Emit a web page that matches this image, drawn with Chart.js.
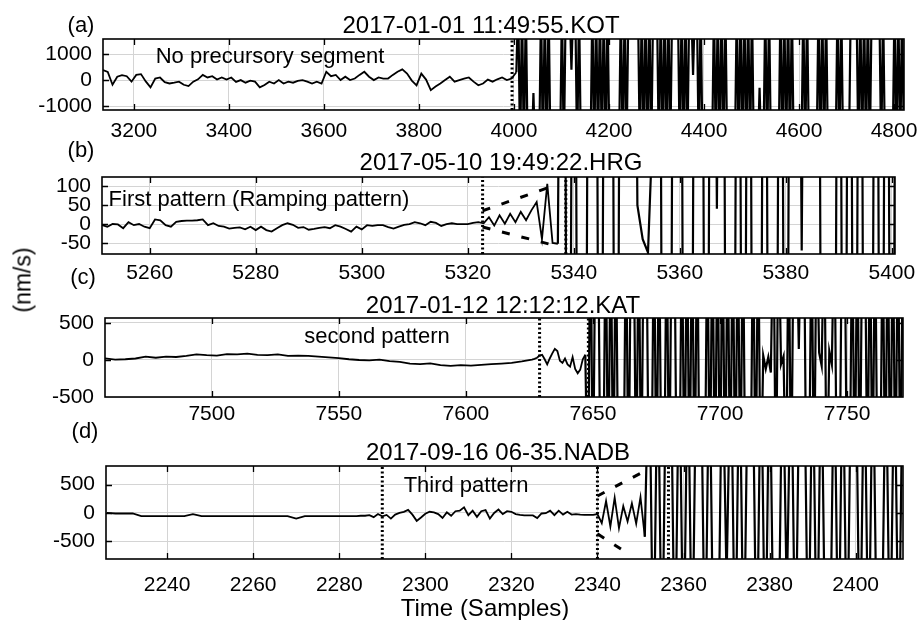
<!DOCTYPE html>
<html>
<head>
<meta charset="utf-8">
<title>Precursory patterns</title>
<script src="https://cdn.jsdelivr.net/npm/chart.js@4.4.1/dist/chart.umd.min.js"></script>
<style>
  html, body { margin: 0; padding: 0; background: #fff; }
  body { position: relative; width: 919px; height: 620px; overflow: hidden; font-family: 'Liberation Sans', Arial, Helvetica, sans-serif; color: #000; }
  canvas { position: absolute; left: 0; }
  .txt { position: absolute; white-space: nowrap; line-height: 1; transform: translate(-50%, -50%); }
  .rot { transform: translate(-50%, -50%) rotate(-90deg); }
</style>
</head>
<body>
<canvas id="cvKot"></canvas>
<canvas id="cvHrg"></canvas>
<canvas id="cvKat"></canvas>
<canvas id="cvNadb"></canvas>

<div class="txt" style="left:81px;top:25px;font-size:22px">(a)</div>
<div class="txt" style="left:481px;top:25px;font-size:24px">2017-01-01 11:49:55.KOT</div>
<div class="txt" style="left:270px;top:56px;font-size:22px">No precursory segment</div>

<div class="txt" style="left:81px;top:150px;font-size:22px">(b)</div>
<div class="txt" style="left:501px;top:162px;font-size:24px">2017-05-10 19:49:22.HRG</div>
<div class="txt" style="left:259px;top:199px;font-size:22px">First pattern (Ramping pattern)</div>

<div class="txt" style="left:83px;top:277px;font-size:22px">(c)</div>
<div class="txt" style="left:503px;top:305px;font-size:24px">2017-01-12 12:12:12.KAT</div>
<div class="txt" style="left:377px;top:336px;font-size:22px">second pattern</div>

<div class="txt" style="left:85px;top:431px;font-size:22px">(d)</div>
<div class="txt" style="left:498px;top:452px;font-size:24px">2017-09-16 06-35.NADB</div>
<div class="txt" style="left:466px;top:485px;font-size:22px">Third pattern</div>

<div class="txt rot" style="left:23px;top:280px;font-size:23px">(nm/s)</div>
<div class="txt" style="left:485px;top:608px;font-size:24px">Time (Samples)</div>

<script>
// ---------- (a) KOT ----------
var kotTicksX = [3200, 3400, 3600, 3800, 4000, 4200, 4400, 4600, 4800];
var kotTicksY = [-1000, 0, 1000];
// background noise, one value every 10 samples from 3135
var kotNoise = [385, 310, -180, 130, 190, 150, -60, 200, 230, -50,
  -280, 60, 100, -80, -130, -100, -60, -180, -230, -60,
  30, 200, 100, 150, 20, 100, 20, 100, -70, 0,
  -100, -20, -60, -280, -190, -60, -130, 0, -130, -60,
  -100, -30, 0, -60, -130, -60, -130, 320, 150, 200,
  0, 130, 0, 60, 200, 320, 130, 0, 100, 60,
  60, 200, 320, 410, 250, -20, -200, 250, 20, -385,
  -250, -130, 0, 130, -60, 0, 60, 100, -60, -200,
  -130, 20, -60, 30, 100, 0, 60, 300];
// clipped arrival, one value every 4 samples from 4009
var kotClip = [3000, -3000, 3000, -3000, 3000, -3000,
  -3000, -3000, -500, -3000, -3000, -3000,
  3000, -3000, 3000, -3000, 3000, -3000,
  -3000, -3000, -3000, -3000, -3000,
  3000, -3000, 3000,
  3000, 3000, 400, 3000, 3000,
  -3000, 3000, -3000,
  -3000, -3000, -3000, -3000, -3000,
  3000, -3000, 3000, -3000, 3000, -3000, 3000, -3000, 3000, -3000,
  -3000, -3000, -3000, -3000, -3000,
  3000, -3000, 3000, -3000, 3000,
  3000, 3000, 3000, 3000, 3000,
  -3000, 3000, -3000, 3000, -3000, 3000, -3000, 3000,
  3000, 3000,
  -3000, 3000, -3000, 3000, -3000, 3000, -3000, 3000,
  3000, 3000, 3000,
  -3000, 3000, -3000, 3000, -3000, 3000,
  3000, 200, 3000, 3000,
  -3000, 3000, -3000,
  -3000, -3000, -3000, -3000, -3000,
  3000, -3000, 3000, -3000, 3000, -3000, 3000, -3000,
  -3000, -3000, -3000, -3000,
  3000, -3000, 3000, -3000, 3000, -3000, 3000, -3000, 3000, -3000,
  -3000, -3000, -300, -3000, -3000,
  3000, -3000, 3000, -3000,
  -3000, -3000, -3000, -3000,
  3000, -3000, 3000, -3000, 3000, -3000, 3000, -3000,
  -3000, -3000, -3000, -3000,
  3000, -3000, 3000, -3000,
  -3000, -3000, -3000, -3000,
  3000, -3000, 3000, -3000, 3000, -3000,
  -3000, -3000, -3000, -3000,
  3000, -3000, 3000, -3000,
  -3000, -3000, -3000, 3000, 3000, 3000, 3000,
  -3000, 3000, -3000, 3000, -3000, 3000, -3000, 3000,
  3000, 3000, 3000, 3000,
  -3000, 3000, -3000,
  -3000, -3000, -3000, -3000,
  3000, -3000, 3000, -3000, 3000, -3000, 3000, -3000];
var kotMarks = [3996];

// ---------- (b) HRG ----------
var hrgTicksX = [5260, 5280, 5300, 5320, 5340, 5360, 5380, 5400];
var hrgTicksY = [-50, 0, 50, 100];
var hrgNoise = [-3, -7, 0, -1, -11, 5, -3, 0, -7, -11,
  12, 10, -3, -7, 6, 8, 9, 9, 10, 12,
  -3, 2, -5, -7, -12, -10, -9, -14, -7, -16,
  -7, -16, -20, -11, -3, 2, -2, -10, -8, -15,
  -13, -10, -8, -11, -3, -7, -13, -20, -7, -14,
  -3, -5, -3, -3, -8, -12, -7, -2, 0, 5,
  2, -3, 6, 3, -5, 0, 2, 0, 0, 0,
  3, 5];                                   // 5251 .. 5322
var hrgRamp = [2, 18, -4, 23, 1, 27, 5, 32, 10, 36, 58, -40, 106, -50, -52];  // 5323 .. 5337
var hrgClip = [2000, -2000, 2000, -2000, -2000, 2000, 2000, -2000, 2000, 2000,
  -2000, 2000, 2000, 2000, 50, -40, -75, 300, 2000, -2000,
  -2000, 2000, 2000, -2000, -2000, 2000, 2000, -2000, 2000, 40,
  2000, -2000, -2000, 2000, -2000, 2000, -2000, -2000, 2000, -2000,
  -2000, 2000, -2000, 2000, 2000, -70, 2000, 2000, 2000, -2000,
  -2000, -2000, 2000, -2000, 2000, -2000, 2000, -2000, -2000, 2000,
  -2000, 2000, -2000, 2000];               // 5338 .. 5401
var hrgMarks = [5322.8, 5338.5];
var hrgUpperX = [5322.8, 5336], hrgUpperY = [35, 100];
var hrgLowerX = [5322.8, 5336], hrgLowerY = [-8, -55];

// ---------- (c) KAT ----------
var katTicksX = [7500, 7550, 7600, 7650, 7700, 7750];
var katTicksY = [-500, 0, 500];
var katNoise = [22, 5, 10, 20, 45, 30, 45, 40, 55, 75,
  65, 60, 80, 75, 85, 70, 65, 75, 55, 60,
  55, 45, 35, 25, 10, 0, -5, 5, -15, -25,
  -50, -55, -45, -70, -80, -70, -75, -65, -55, -48,
  -40, -20, 5];                            // every 4 samples, 7458 .. 7626
var katOnset = [15, 30, 60, 70, 10, -60, 20, 90, 150, 120, -10, -40, 20, -60, -90, 40, -120, -180, -130, 10, 70];  // 7627 .. 7647
var katClip = [-2000, 2000, -2000, 2000, 2000, -2000, -2000, 2000, -2000, 2000,
  -2000, 2000, -2000, -2000, -2000, 2000, -2000, 2000, 2000, -2000,
  2000, -2000, 2000, 2000, -2000, -2000, 2000, -2000, 2000, -2000,
  -2000, 2000, -2000, 2000, 2000, -2000, -2000, 2000, -2000, 2000,
  -2000, 2000, -2000, 2000, -2000, -2000, -2000, 2000, -2000, 2000,
  -2000, 2000, -2000, 2000, -2000, 2000, -2000, 2000, -2000, 2000,
  -2000, 2000, -2000, -2000, -2000, 2000, -2000, 2000, -2000, 60,
  -120, 40, -170, 2000, -2000, 2000, -60, 50, -2000, 2000,
  -2000, 2000, 2000, 150, 2000, 2000, -2000, -2000, 2000, -2000,
  2000, 100, -80, 2000, -2000, 120, -60, 2000, -2000, -2000,
  2000, 2000, -2000, -2000, 2000, -2000, 2000, -2000, 2000, 2000,
  -2000, 2000, -2000, 2000, -2000, -2000, 2000, -2000, 2000, -2000,
  2000, -2000, 2000, -2000, 2000];         // 7648 .. 7772
var katMarks = [7629, 7648.2];

// ---------- (d) NADB ----------
var nadbTicksX = [2240, 2260, 2280, 2300, 2320, 2340, 2360, 2380, 2400];
var nadbTicksY = [-500, 0, 500];
var nadbQuiet = [0, -10, -10, -10, -55, -55, -55, -55, -55, -55,
  -20, -55, -55, -55, -55, -55, -55, -55, -55, -55,
  -55, -55, -100, -55, -55, -55, -55, -55, -55, -55];   // every 2 samples, 2226 .. 2284
var nadbWiggle = [-50, -50, -40, -75, -20, -60, -35, -100, -30, 0,
  20, 55, -30, -140, -80, -15, 20, 10, -20, -90,
  10, -50, 30, 40, 100, -40, 40, -70, 30, 50,
  -100, 0, 60, -20, 30, 20, -20, -35, -45, -45,
  -45, -90, -10, -5, 40, -40, 40, -30, 20, -30,
  -20, -30, -35, -35, -35];               // 2285 .. 2339
var nadbRamp = [-20, -180, 210, -240, 270, -270, 120, -150, 170, -190, 280, -420];  // 2340 .. 2351
var nadbClip = [3000, -3000, 3000, -3000, 3000, 3000, -3000, 3000, -3000, 3000,
  -3000, 3000, 3000, -3000, 3000, -3000, -3000, 3000, -1200, 3000,
  -3000, 3000, -3000, 3000, 3000, -3000, 3000, -3000, 3000, -3000,
  -3000, 3000, -1500, 3000, -3000, 3000, 3000, -3000, 3000, -3000,
  3000, -3000, -3000, 3000, -3000, 3000, -3000, 3000, 3000, -3000,
  3000, -3000, 3000, -3000, -3000, 3000, -3000, 3000, -3000, 3000];  // 2352 .. 2411
var nadbMarks = [2290, 2340, 2356.5];
var nadbUpperX = [2340, 2350.5], nadbUpperY = [300, 720];
var nadbLowerX = [2340, 2346.5], nadbLowerY = [-370, -690];

function pts(x0, step, ys) {
  return ys.map(function (y, i) { return { x: x0 + i * step, y: y }; });
}
function pairs(xs, ys) {
  return xs.map(function (x, i) { return { x: x, y: ys[i] }; });
}

Chart.defaults.font.family = "'Liberation Sans', Arial, Helvetica, sans-serif";
Chart.defaults.color = '#000';

var frameTicks = {
  id: 'frameTicks',
  afterDraw: function (chart) {
    var a = chart.chartArea, ctx = chart.ctx;
    var sx = chart.scales.x, sy = chart.scales.y;
    ctx.save();
    ctx.strokeStyle = '#000';
    ctx.lineWidth = 1.3;
    ctx.beginPath();
    sx.ticks.forEach(function (t) {
      var px = Math.round(sx.getPixelForValue(t.value)) + 0.5;
      if (px < a.left || px > a.right) return;
      ctx.moveTo(px, a.bottom); ctx.lineTo(px, a.bottom - 6);
      ctx.moveTo(px, a.top); ctx.lineTo(px, a.top + 6);
    });
    sy.ticks.forEach(function (t) {
      var py = Math.round(sy.getPixelForValue(t.value)) + 0.5;
      if (py < a.top || py > a.bottom) return;
      ctx.moveTo(a.left, py); ctx.lineTo(a.left + 6, py);
      ctx.moveTo(a.right, py); ctx.lineTo(a.right - 6, py);
    });
    ctx.stroke();
    ctx.lineWidth = 1.6;
    ctx.strokeRect(a.left, a.top, a.right - a.left, a.bottom - a.top);
    ctx.restore();
  }
};

var TOP_GAP = 28, AXIS_H = 40, CANVAS_W = 960;

function makePanel(p) {
  var cv = document.getElementById(p.id);
  cv.width = CANVAS_W;
  cv.height = TOP_GAP + (p.bottom - p.top) + AXIS_H;
  cv.style.top = (p.top - TOP_GAP) + 'px';

  // quiet part and clipped part share the joining sample so the trace stays continuous
  var joint = p.quiet[p.quiet.length - 1];
  var datasets = [
    { data: p.quiet, borderColor: '#000', borderWidth: 1.8, order: 2 },
    { data: [joint].concat(p.clip), borderColor: '#000', borderWidth: p.clipWidth, order: 2 }
  ];
  p.marks.forEach(function (x) {
    datasets.push({ data: [{ x: x, y: p.yMin }, { x: x, y: p.yMax }],
      borderColor: '#000', borderWidth: 3, borderDash: [2, 2.5], order: 1 });
  });
  (p.envelopes || []).forEach(function (env) {
    datasets.push({ data: env, borderColor: '#000', borderWidth: 3, borderDash: [8, 12], order: 1 });
  });
  datasets.forEach(function (d) { d.pointRadius = 0; d.tension = 0; d.fill = false; d.clip = 0; });

  function tickList(arr) {
    return function (s) { s.ticks = arr.map(function (v) { return { value: v }; }); };
  }

  new Chart(cv, {
    type: 'line',
    data: { datasets: datasets },
    options: {
      responsive: false,
      animation: false,
      devicePixelRatio: 1,
      events: [],
      layout: { padding: { left: 0, top: TOP_GAP, right: CANVAS_W - p.right, bottom: 0 } },
      plugins: { legend: { display: false }, tooltip: { enabled: false } },
      scales: {
        x: {
          type: 'linear', min: p.xMin, max: p.xMax, bounds: 'data',
          afterBuildTicks: tickList(p.xTicks),
          afterFit: function (s) { s.height = AXIS_H; },
          ticks: { color: '#000', font: { size: 21 }, padding: p.xPad, maxRotation: 0, autoSkip: false,
            callback: function (v) { return String(v); } },
          grid: { color: '#d4d4d4', lineWidth: 1, drawTicks: false },
          border: { display: false }
        },
        y: {
          type: 'linear', min: p.yMin, max: p.yMax, bounds: 'data',
          afterBuildTicks: tickList(p.yTicks),
          afterFit: function (s) { s.width = p.left; },
          ticks: { color: '#000', font: { size: 21 }, padding: 11, autoSkip: false,
            callback: function (v) { return String(v); } },
          grid: { color: '#d4d4d4', lineWidth: 1, drawTicks: false },
          border: { display: false }
        }
      }
    },
    plugins: [frameTicks]
  });
}

makePanel({
  id: 'cvKot', left: 103, right: 904, top: 39, bottom: 110,
  xMin: 3135, xMax: 4821, yMin: -1150, yMax: 1580, xPad: 9,
  xTicks: kotTicksX, yTicks: kotTicksY,
  quiet: pts(3135, 10, kotNoise),
  clip: pts(4009, 4, kotClip), clipWidth: 2.2,
  marks: kotMarks
});

makePanel({
  id: 'cvHrg', left: 102, right: 895, top: 177, bottom: 254,
  xMin: 5251, xMax: 5400.6, yMin: -79, yMax: 124, xPad: 7,
  xTicks: hrgTicksX, yTicks: hrgTicksY,
  quiet: pts(5251, 1, hrgNoise).concat(pts(5323, 1, hrgRamp)),
  clip: pts(5338, 1, hrgClip), clipWidth: 2.2,
  marks: hrgMarks,
  envelopes: [pairs(hrgUpperX, hrgUpperY), pairs(hrgLowerX, hrgLowerY)]
});

makePanel({
  id: 'cvKat', left: 105, right: 903, top: 318, bottom: 397,
  xMin: 7458, xMax: 7772, yMin: -500, yMax: 567, xPad: 5,
  xTicks: katTicksX, yTicks: katTicksY,
  quiet: pts(7458, 4, katNoise).concat(pts(7627, 1, katOnset)),
  clip: pts(7648, 1, katClip), clipWidth: 2.2,
  marks: katMarks
});

makePanel({
  id: 'cvNadb', left: 106, right: 903, top: 466, bottom: 559,
  xMin: 2225.8, xMax: 2411, yMin: -815, yMax: 830, xPad: 14,
  xTicks: nadbTicksX, yTicks: nadbTicksY,
  quiet: pts(2226, 2, nadbQuiet).concat(pts(2285, 1, nadbWiggle), pts(2340, 1, nadbRamp)),
  clip: pts(2352, 1, nadbClip), clipWidth: 2.2,
  marks: nadbMarks,
  envelopes: [pairs(nadbUpperX, nadbUpperY), pairs(nadbLowerX, nadbLowerY)]
});
</script>
</body>
</html>
